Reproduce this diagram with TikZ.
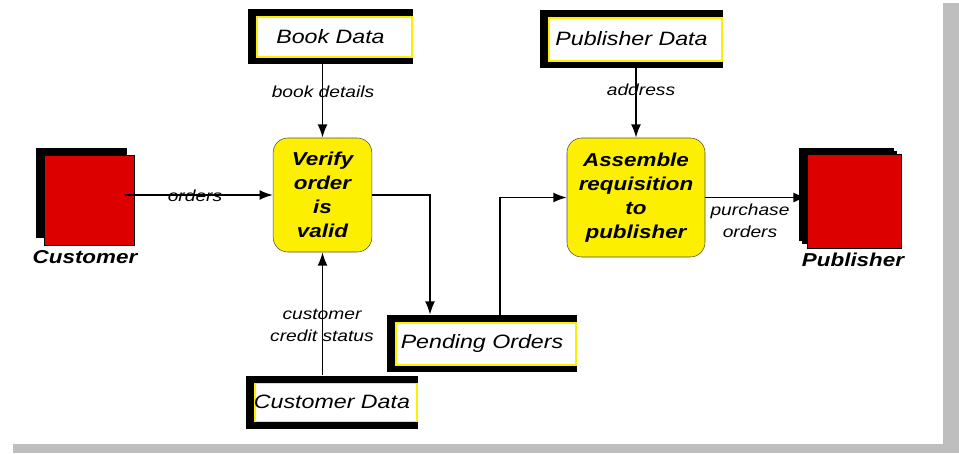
\documentclass[tikz,border=0pt]{standalone}
\usepackage{fontspec}
\setmainfont{Liberation Sans}[FakeStretch=1.2]
\usetikzlibrary{arrows.meta,shadows}
\definecolor{entityred}{RGB}{221,0,0}
\definecolor{procyellow}{RGB}{252,240,0}
\definecolor{framegray}{RGB}{190,190,190}

\begin{document}
\begin{tikzpicture}[x=0.75pt,y=-0.75pt,
    flow/.style={line width=1.3pt,-{Latex[length=10pt,width=7.5pt]}},
    slot/.style={path picture={
      \draw[procyellow,fill=white,line width=0.8pt]
      ([xshift=6.75pt,yshift=5.25pt]path picture bounding box.south west) rectangle
      ([xshift=-0.75pt,yshift=-6pt]path picture bounding box.north east);
    }}]

    % `entity' is used for the external sources and sinks.
    % `process' is used for the rounded yellow steps.
    % `store' is used for the open data stores.
    \tikzstyle{entity} = [fill=entityred,draw=black,line width=0.6pt,
      general shadow={fill=black,shadow xshift=-6pt,shadow yshift=5.25pt}]
    \tikzstyle{process} = [draw=black!70,fill=procyellow,rounded corners=11pt,
      align=center,inner sep=0pt,font=\bfseries\itshape\fontsize{14}{18}\selectfont]
    \tikzstyle{store} = [fill=black,slot,inner sep=0pt,
      font=\itshape\fontsize{14.5}{18}\selectfont]
    \tikzstyle{flowlabel} = [align=center,inner sep=1pt,
      font=\itshape\fontsize{12}{16.5}\selectfont]
    \tikzstyle{entitylabel} = [inner sep=0pt,font=\bfseries\itshape\fontsize{14}{17}\selectfont]
    %
    \useasboundingbox (0,0) rectangle (959,453);
    \fill[framegray] (943,3) rectangle (959,453);
    \fill[framegray] (13,444) rectangle (959,453);

    % External entities.
    \node[entity,minimum width=68pt,minimum height=67.5pt] (customer) at (89.5,200) {};
    \node[entitylabel] (customerlbl) at (85,257) {Customer};
    \node[entity,minimum width=71pt,minimum height=70pt,
      general shadow={fill=black,shadow xshift=-3.75pt,shadow yshift=3pt}] (publisher) at (854.5,201.5) {};
    \node[entitylabel] (publisherlbl) at (853,260) {Publisher};

    % Processes.
    \node[process,minimum width=74pt,minimum height=85.5pt] (verify) at (322.5,195)
      {Verify\\order\\is\\valid};
    \node[process,minimum width=103.5pt,minimum height=89.25pt] (assemble) at (636,197.5)
      {Assemble\\requisition\\to\\publisher};

    % Data stores.
    \node[store,minimum width=123.75pt,minimum height=41.25pt] (bookdata) at (330.5,36.5) {Book Data};
    \node[store,minimum width=137.25pt,minimum height=43.5pt] (pubdata) at (631.5,39) {Publisher Data};
    \node[store,minimum width=142.5pt,minimum height=42.75pt] (pending) at (482,343.5) {Pending Orders};
    \node[store,minimum width=129pt,minimum height=39.75pt] (custdata) at (332,402) {Customer Data};

    % Flows.
    \coordinate (custout) at ([xshift=-8pt]customer.east);
    \coordinate (pendin) at ([xshift=-39pt]pending.north);
    \coordinate (pendout) at ([xshift=13.5pt]pending.north);
    \draw[flow] (custout |- verify.west) -- (verify.west);
    \draw[flow] (verify.north |- bookdata.south) -- (verify.north);
    \draw[flow] (verify.south |- custdata.north) -- (verify.south);
    \draw[flow] (verify.east) -| (pendin);
    \draw[flow] (pendout) |- (assemble.west);
    \draw[flow] (assemble.north |- pubdata.south) -- (assemble.north);
    \draw[flow] (assemble.east) -- (assemble.east -| publisher.west);

    % Flow labels.
    \node[flowlabel] (orderslbl) at (195,196) {orders};
    \node[flowlabel] (detailslbl) at (323,92) {book details};
    \node[flowlabel] (creditlbl) at (322,325) {customer\\credit status};
    \node[flowlabel] (addresslbl) at (641,90) {address};
    \node[flowlabel] (purchaselbl) at (750,221) {purchase\\orders};
    %
\end{tikzpicture}
\end{document}
